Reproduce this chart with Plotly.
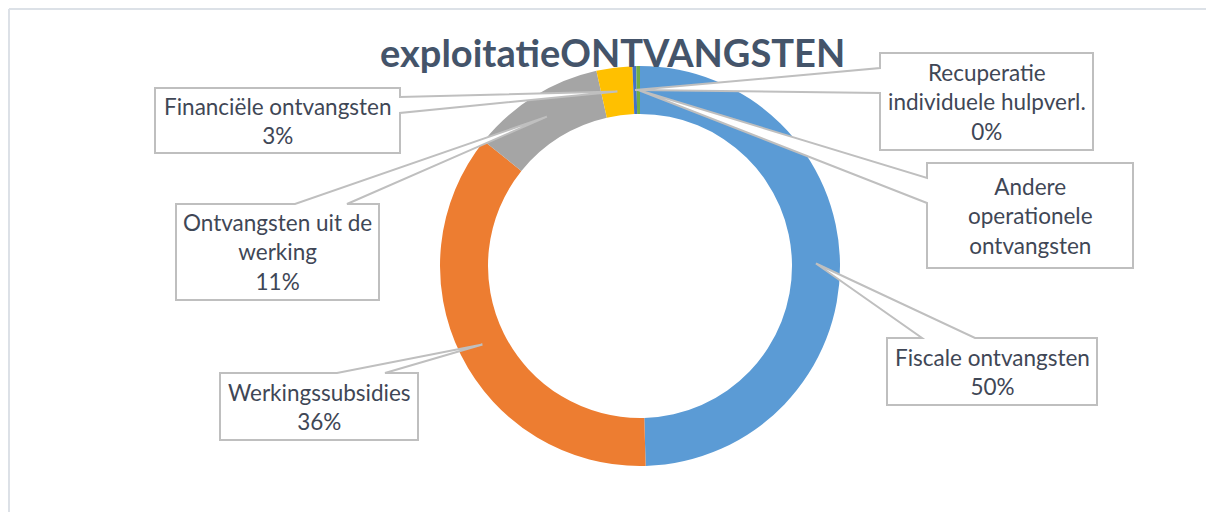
import math
import plotly.graph_objects as go

# ---------------- data ----------------
categories = [
    "Fiscale ontvangsten",
    "Werkingssubsidies",
    "Ontvangsten uit de werking",
    "Financiële ontvangsten",
    "Recuperatie individuele hulpverl.",
    "Andere operationele ontvangsten",
]
values = [49.55, 36.2, 10.75, 2.9, 0.3, 0.3]
colors = ["#5B9BD5", "#ED7D31", "#A5A5A5", "#FFC000", "#4472C4", "#70AD47"]
label_lines = [
    ["Fiscale ontvangsten"],
    ["Werkingssubsidies"],
    ["Ontvangsten uit de", "werking"],
    ["Financiële ontvangsten"],
    ["Recuperatie", "individuele hulpverl."],
    ["Andere", "operationele", "ontvangsten"],
]
show_pct = [True, True, True, True, True, False]
title_text = "exploitatieONTVANGSTEN"

# ---------------- layout constants (screen pixels) ----------------
W, H = 1214, 512
OFF = 8  # page body margin
CX, CY, R = 640, 266, 200
HOLE = 0.76
TEXT_COLOR = "#3F4756"
BOX_LINE = "#BFBFBF"

# callout boxes: (x0, y0, x1, y1), edge carrying the pointer, pointer base along that edge
callouts = [
    dict(box=(887, 338, 1097, 405), edge="top", base=(922, 975)),
    dict(box=(220, 373, 418, 440), edge="top", base=(337, 385)),
    dict(box=(176, 204, 379, 300), edge="top", base=(295, 347)),
    dict(box=(155, 88, 400, 153), edge="right", base=(97, 113)),
    dict(box=(880, 53, 1093, 150), edge="left", base=(68, 93)),
    dict(box=(927, 163, 1133, 268), edge="left", base=(178, 203)),
]


def px(x):
    return (x - OFF) / W


def py(y):
    return 1 - (y - OFF) / H


fig = go.Figure()
fig.add_trace(
    go.Pie(
        labels=categories,
        values=values,
        hole=HOLE,
        sort=False,
        direction="clockwise",
        rotation=0,
        marker=dict(colors=colors, line=dict(width=0)),
        textinfo="none",
        hoverinfo="label+percent",
        showlegend=False,
        domain=dict(x=[px(CX - R), px(CX + R)], y=[py(CY + R), py(CY - R)]),
    )
)

total = sum(values)
cum = 0.0
shapes = []
annotations = []
tip_r = R * (1 + HOLE) / 2
for i, v in enumerate(values):
    theta = 2 * math.pi * (cum + v / 2) / total
    cum += v
    tx = CX + tip_r * math.sin(theta)
    ty = CY - tip_r * math.cos(theta)
    c = callouts[i]
    x0, y0, x1, y1 = c["box"]
    a, b = c["base"]
    if c["edge"] == "top":
        pts = [(x0, y0), (a, y0), (tx, ty), (b, y0), (x1, y0), (x1, y1), (x0, y1)]
    elif c["edge"] == "left":
        pts = [(x0, y0), (x1, y0), (x1, y1), (x0, y1), (x0, b), (tx, ty), (x0, a)]
    else:  # right
        pts = [(x0, y0), (x1, y0), (x1, a), (tx, ty), (x1, b), (x1, y1), (x0, y1)]
    path = "M " + " L ".join(f"{px(x):.5f},{py(y):.5f}" for x, y in pts) + " Z"
    shapes.append(
        dict(
            type="path",
            xref="paper",
            yref="paper",
            path=path,
            fillcolor="white",
            line=dict(color=BOX_LINE, width=2),
            layer="above",
        )
    )
    lines = list(label_lines[i])
    if show_pct[i]:
        lines.append(f"{round(100 * v / total)}%")
    annotations.append(
        dict(
            x=px((x0 + x1) / 2),
            y=py((y0 + y1) / 2),
            xref="paper",
            yref="paper",
            text="<br>".join(lines),
            showarrow=False,
            xanchor="center",
            yanchor="middle",
            align="center",
            font=dict(family="Lato", size=22.5, color=TEXT_COLOR),
        )
    )

# chart frame (top and left edges visible)
shapes.append(dict(type="line", xref="paper", yref="paper", x0=0.0008, x1=1, y0=0.998, y1=0.998,
                   line=dict(color="#DCE1E7", width=2), layer="below"))
shapes.append(dict(type="line", xref="paper", yref="paper", x0=0.0008, x1=0.0008, y0=0.998, y1=0,
                   line=dict(color="#DCE1E7", width=2), layer="below"))

annotations.append(
    dict(
        x=px(612),
        y=py(52),
        xref="paper",
        yref="paper",
        text=f"<b>{title_text}</b>",
        showarrow=False,
        xanchor="center",
        yanchor="middle",
        font=dict(family="Lato", size=38, color="#44546A"),
    )
)

fig.update_layout(
    width=W,
    height=H,
    margin=dict(l=0, r=0, t=0, b=0),
    paper_bgcolor="white",
    plot_bgcolor="white",
    shapes=shapes,
    annotations=annotations,
)

fig.write_html("out.html")
